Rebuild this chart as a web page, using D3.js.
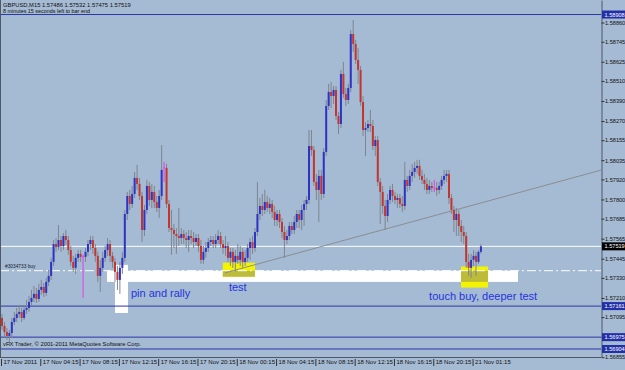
<!DOCTYPE html>
<html>
<head>
<meta charset="utf-8">
<script src="https://cdn.jsdelivr.net/npm/d3@7"></script>
<style>
  html, body { margin: 0; padding: 0; background: #a5bad3; overflow: hidden; }
  svg { display: block; font-family: "Liberation Sans", Arial, sans-serif; }
</style>
</head>
<body>
<div id="chart"></div>
<script>
// GBPUSD M15, 17 Nov 2011 00:00 .. 21 Nov 2011 (one value per bar)
const open = [
  1.57090, 1.57042, 1.57006, 1.56982, 1.57000, 1.57066, 1.57090, 1.57114, 1.57126, 1.57090,
  1.57138, 1.57150, 1.57186, 1.57210, 1.57234, 1.57204, 1.57258, 1.57276, 1.57240, 1.57306,
  1.57342, 1.57426, 1.57533, 1.57515, 1.57557, 1.57521, 1.57581, 1.57557, 1.57497, 1.57426,
  1.57390, 1.57450, 1.57474, 1.57456, 1.57456, 1.57486, 1.57533, 1.57557, 1.57509, 1.57462,
  1.57342, 1.57390, 1.57450, 1.57497, 1.57533, 1.57462, 1.57426, 1.57366, 1.57318, 1.57390,
  1.57450, 1.57713, 1.57821, 1.57773, 1.57833, 1.57929, 1.57893, 1.57821, 1.57617, 1.57737,
  1.57881, 1.57797, 1.57845, 1.57785, 1.57749, 1.57821, 1.57989, 1.57989, 1.57773, 1.57629,
  1.57617, 1.57593, 1.57581, 1.57569, 1.57593, 1.57569, 1.57557, 1.57581, 1.57569, 1.57545,
  1.57569, 1.57521, 1.57438, 1.57486, 1.57509, 1.57545, 1.57557, 1.57533, 1.57557, 1.57581,
  1.57533, 1.57509, 1.57521, 1.57450, 1.57486, 1.57426, 1.57462, 1.57438, 1.57486, 1.57426,
  1.57450, 1.57509, 1.57545, 1.57509, 1.57605, 1.57713, 1.57761, 1.57737, 1.57785, 1.57749,
  1.57773, 1.57725, 1.57677, 1.57713, 1.57665, 1.57605, 1.57557, 1.57581, 1.57641, 1.57617,
  1.57665, 1.57713, 1.57677, 1.57737, 1.57773, 1.57797, 1.58120, 1.58096, 1.57905, 1.57857,
  1.57941, 1.57833, 1.58085, 1.58360, 1.58444, 1.58420, 1.58456, 1.58300, 1.58252, 1.58552,
  1.58432, 1.58396, 1.58468, 1.58791, 1.58731, 1.58636, 1.58576, 1.58384, 1.58216, 1.58228,
  1.58252, 1.58240, 1.58120, 1.58156, 1.57905, 1.57845, 1.57761, 1.57701, 1.57797, 1.57857,
  1.57821, 1.57797, 1.57809, 1.57773, 1.57761, 1.57917, 1.57881, 1.57941, 1.57965, 1.57989,
  1.58001, 1.57941, 1.57917, 1.57893, 1.57857, 1.57881, 1.57869, 1.57869, 1.57857, 1.57881,
  1.57917, 1.57941, 1.57953, 1.57809, 1.57737, 1.57677, 1.57713, 1.57641, 1.57605, 1.57581,
  1.57426, 1.57390, 1.57438, 1.57462, 1.57426, 1.57486
];
const high = [
  1.57114, 1.57066, 1.57030, 1.57018, 1.57090, 1.57126, 1.57150, 1.57168, 1.57150, 1.57168,
  1.57198, 1.57222, 1.57258, 1.57282, 1.57270, 1.57294, 1.57318, 1.57300, 1.57330, 1.57378,
  1.57450, 1.57557, 1.57569, 1.57647, 1.57581, 1.57599, 1.57617, 1.57581, 1.57521, 1.57462,
  1.57474, 1.57497, 1.57497, 1.57468, 1.57509, 1.57557, 1.57581, 1.57581, 1.57533, 1.57486,
  1.57438, 1.57486, 1.57521, 1.57569, 1.57557, 1.57486, 1.57450, 1.57402, 1.57426, 1.57486,
  1.57737, 1.57845, 1.57857, 1.57881, 1.57965, 1.58007, 1.57929, 1.57845, 1.57767, 1.57917,
  1.57905, 1.57893, 1.57881, 1.57821, 1.57857, 1.58126, 1.58025, 1.58013, 1.57797, 1.57737,
  1.57653, 1.57629, 1.57749, 1.57629, 1.57617, 1.57605, 1.57617, 1.57617, 1.57605, 1.57593,
  1.57593, 1.57557, 1.57521, 1.57545, 1.57569, 1.57581, 1.57581, 1.57593, 1.57617, 1.57605,
  1.57557, 1.57581, 1.57545, 1.57509, 1.57509, 1.57497, 1.57533, 1.57521, 1.57509, 1.57497,
  1.57533, 1.57569, 1.57581, 1.57629, 1.57905, 1.57809, 1.57833, 1.57857, 1.57821, 1.57809,
  1.57797, 1.57761, 1.57737, 1.57737, 1.57689, 1.57641, 1.57617, 1.57665, 1.57665, 1.57701,
  1.57737, 1.57737, 1.57767, 1.57797, 1.57821, 1.58216, 1.58216, 1.58120, 1.57953, 1.57977,
  1.57977, 1.58108, 1.58396, 1.58492, 1.58504, 1.58480, 1.58480, 1.58324, 1.58576, 1.58624,
  1.58468, 1.58492, 1.58815, 1.58875, 1.58755, 1.58707, 1.58600, 1.58420, 1.58264, 1.58276,
  1.58336, 1.58276, 1.58180, 1.58180, 1.57929, 1.57881, 1.57797, 1.57833, 1.57881, 1.57893,
  1.57845, 1.57833, 1.57833, 1.57821, 1.58025, 1.57941, 1.57977, 1.58013, 1.58025, 1.58037,
  1.58037, 1.57977, 1.57953, 1.57929, 1.57917, 1.57905, 1.57917, 1.57905, 1.57905, 1.57941,
  1.57977, 1.57977, 1.57977, 1.57833, 1.57761, 1.57749, 1.57737, 1.57677, 1.57641, 1.57605,
  1.57474, 1.57474, 1.57497, 1.57486, 1.57497, 1.57532
];
const low = [
  1.57018, 1.56982, 1.56958, 1.56922, 1.56970, 1.57048, 1.57066, 1.57090, 1.57066, 1.57078,
  1.57114, 1.57126, 1.57162, 1.57186, 1.57180, 1.57186, 1.57228, 1.57216, 1.57222, 1.57282,
  1.57318, 1.57402, 1.57486, 1.57497, 1.57486, 1.57497, 1.57527, 1.57468, 1.57402, 1.57366,
  1.57354, 1.57426, 1.57426, 1.57210, 1.57426, 1.57462, 1.57497, 1.57474, 1.57426, 1.57306,
  1.57246, 1.57366, 1.57426, 1.57462, 1.57426, 1.57390, 1.57306, 1.57258, 1.57234, 1.57354,
  1.57426, 1.57677, 1.57737, 1.57749, 1.57809, 1.57857, 1.57797, 1.57545, 1.57581, 1.57713,
  1.57761, 1.57749, 1.57749, 1.57725, 1.57689, 1.57797, 1.57905, 1.57749, 1.57605, 1.57468,
  1.57509, 1.57474, 1.57521, 1.57533, 1.57533, 1.57509, 1.57486, 1.57533, 1.57509, 1.57521,
  1.57486, 1.57414, 1.57414, 1.57450, 1.57486, 1.57521, 1.57509, 1.57509, 1.57533, 1.57509,
  1.57474, 1.57462, 1.57426, 1.57402, 1.57390, 1.57366, 1.57414, 1.57402, 1.57390, 1.57402,
  1.57426, 1.57438, 1.57474, 1.57486, 1.57581, 1.57677, 1.57701, 1.57713, 1.57725, 1.57713,
  1.57689, 1.57641, 1.57641, 1.57629, 1.57569, 1.57450, 1.57533, 1.57557, 1.57593, 1.57593,
  1.57629, 1.57629, 1.57617, 1.57641, 1.57737, 1.57773, 1.58061, 1.57881, 1.57797, 1.57665,
  1.57797, 1.57809, 1.58061, 1.58336, 1.58348, 1.58372, 1.58276, 1.58192, 1.58228, 1.58408,
  1.58360, 1.58372, 1.58444, 1.58684, 1.58612, 1.58492, 1.58360, 1.58180, 1.58061, 1.58204,
  1.58204, 1.58096, 1.58061, 1.57881, 1.57653, 1.57713, 1.57617, 1.57665, 1.57773, 1.57785,
  1.57773, 1.57749, 1.57749, 1.57725, 1.57737, 1.57845, 1.57857, 1.57905, 1.57929, 1.57953,
  1.57917, 1.57893, 1.57857, 1.57833, 1.57833, 1.57845, 1.57845, 1.57821, 1.57833, 1.57857,
  1.57893, 1.57905, 1.57773, 1.57713, 1.57605, 1.57581, 1.57581, 1.57545, 1.57533, 1.57390,
  1.57342, 1.57330, 1.57402, 1.57342, 1.57414, 1.57475
];
const close = [
  1.57042, 1.57006, 1.56982, 1.57000, 1.57066, 1.57090, 1.57114, 1.57126, 1.57090, 1.57138,
  1.57150, 1.57186, 1.57210, 1.57234, 1.57204, 1.57258, 1.57276, 1.57240, 1.57306, 1.57342,
  1.57426, 1.57533, 1.57515, 1.57557, 1.57521, 1.57581, 1.57557, 1.57497, 1.57426, 1.57390,
  1.57450, 1.57474, 1.57456, 1.57456, 1.57486, 1.57533, 1.57557, 1.57509, 1.57462, 1.57342,
  1.57390, 1.57450, 1.57497, 1.57533, 1.57462, 1.57426, 1.57366, 1.57318, 1.57390, 1.57450,
  1.57713, 1.57821, 1.57773, 1.57833, 1.57929, 1.57893, 1.57821, 1.57617, 1.57737, 1.57881,
  1.57797, 1.57845, 1.57785, 1.57749, 1.57821, 1.57977, 1.57989, 1.57773, 1.57629, 1.57617,
  1.57593, 1.57581, 1.57569, 1.57593, 1.57569, 1.57557, 1.57581, 1.57569, 1.57545, 1.57569,
  1.57521, 1.57438, 1.57486, 1.57509, 1.57545, 1.57557, 1.57533, 1.57557, 1.57581, 1.57533,
  1.57509, 1.57521, 1.57450, 1.57486, 1.57426, 1.57462, 1.57438, 1.57486, 1.57426, 1.57450,
  1.57509, 1.57545, 1.57509, 1.57605, 1.57713, 1.57761, 1.57737, 1.57785, 1.57749, 1.57773,
  1.57725, 1.57677, 1.57713, 1.57665, 1.57605, 1.57557, 1.57581, 1.57641, 1.57617, 1.57665,
  1.57713, 1.57677, 1.57737, 1.57773, 1.57797, 1.58120, 1.58096, 1.57905, 1.57857, 1.57941,
  1.57833, 1.58085, 1.58360, 1.58444, 1.58420, 1.58456, 1.58300, 1.58252, 1.58552, 1.58432,
  1.58396, 1.58468, 1.58791, 1.58731, 1.58636, 1.58576, 1.58384, 1.58216, 1.58228, 1.58252,
  1.58240, 1.58120, 1.58156, 1.57905, 1.57845, 1.57761, 1.57701, 1.57797, 1.57857, 1.57821,
  1.57797, 1.57809, 1.57773, 1.57761, 1.57917, 1.57881, 1.57941, 1.57965, 1.57989, 1.58001,
  1.57941, 1.57917, 1.57893, 1.57857, 1.57881, 1.57869, 1.57869, 1.57857, 1.57881, 1.57917,
  1.57941, 1.57953, 1.57809, 1.57737, 1.57677, 1.57713, 1.57641, 1.57605, 1.57581, 1.57426,
  1.57390, 1.57438, 1.57462, 1.57426, 1.57486, 1.57519
];

// time axis: bar index of each label and its text
const timeBars = [0, 16, 32, 48, 64, 80, 96, 112, 128, 144, 160, 176, 192];
const timeLabels = ['17 Nov 2011', '17 Nov 04:15', '17 Nov 08:15', '17 Nov 12:15', '17 Nov 16:15',
  '17 Nov 20:15', '18 Nov 00:15', '18 Nov 04:15', '18 Nov 08:15', '18 Nov 12:15',
  '18 Nov 16:15', '18 Nov 20:15', '21 Nov 01:15'];

const priceTicks = [1.58860, 1.58745, 1.58625, 1.58510, 1.58390, 1.58270, 1.58155, 1.58035,
  1.57920, 1.57800, 1.57685, 1.57565, 1.57445, 1.57330, 1.57210, 1.57095, 1.56975, 1.56855];

// chart objects
const blueLevels = [1.58908, 1.57161, 1.56975, 1.56904];
const bidPrice = 1.57519;
const orderPrice = 1.57373;
const orderLabel = '#3034733 buy';
const trendFrom = [90.8, 1.57360];
const trendTo = [195, 1.57779];
const whiteBoxes = [[42.75, 210.1, 1.57373, 1.57306], [46, 51.3, 1.57408, 1.57120]];
const yellowBoxes = [[89.9, 103, 1.57421, 1.57337], [186.9, 197.9, 1.57398, 1.57272]];
const notes = [['pin and rally', 52.5, 1.57216], ['test', 92.4, 1.57252], ['touch buy, deeper test', 173.9, 1.57198]];

const W = 625, H = 370;
const plotRight = 601, plotBottom = 357;

const svg = d3.select('#chart').append('svg')
  .attr('width', W)
  .attr('height', H);

svg.append('rect').attr('width', W).attr('height', H).attr('fill', '#a5bad3');

const x = d3.scaleLinear().domain([0, close.length - 1]).range([2, 2 + (close.length - 1) * 2.456]);
const y = d3.scaleLinear().domain([1.56856, 1.58995]).range([plotBottom, 0]);

const plot = svg.append('g');
plot.append('clipPath').attr('id', 'clip')
  .append('rect').attr('width', plotRight).attr('height', plotBottom);
const g = plot.append('g').attr('clip-path', 'url(#clip)');

// rectangles
const boxRect = (sel, b) => sel
  .attr('x', x(b[0])).attr('width', x(b[1]) - x(b[0]))
  .attr('y', y(b[2])).attr('height', y(b[3]) - y(b[2]));
whiteBoxes.forEach(b => g.append('rect').call(boxRect, b).attr('fill', '#ffffff'));
yellowBoxes.forEach(b => g.append('rect').call(boxRect, b).attr('fill', '#f4f400'));
// where yellow sits on white the colours mix to olive
yellowBoxes.forEach(b => {
  const w = whiteBoxes[0];
  const o = [Math.max(b[0], w[0]), Math.min(b[1], w[1]), Math.min(b[2], w[2]), Math.max(b[3], w[3])];
  if (o[1] > o[0] && o[2] > o[3]) g.append('rect').call(boxRect, o).attr('fill', '#bcbc3a');
});

// horizontal lines
blueLevels.forEach(p => g.append('line')
  .attr('x1', 0).attr('x2', plotRight).attr('y1', y(p)).attr('y2', y(p))
  .attr('stroke', '#2c36a6').attr('stroke-width', 1));
g.append('line')
  .attr('x1', 0).attr('x2', plotRight).attr('y1', y(bidPrice)).attr('y2', y(bidPrice))
  .attr('stroke', '#ffffff').attr('stroke-width', 1);
g.append('line')
  .attr('x1', 0).attr('x2', plotRight).attr('y1', y(orderPrice)).attr('y2', y(orderPrice))
  .attr('stroke', '#ffffff').attr('stroke-width', 1).attr('stroke-dasharray', '9,3,2,3');
g.append('text')
  .attr('x', 5).attr('y', y(orderPrice) - 2.5)
  .attr('font-size', 4.8).attr('fill', '#141a2c')
  .text(orderLabel);

// trend line, extended to the right edge
const slope = (y(trendTo[1]) - y(trendFrom[1])) / (x(trendTo[0]) - x(trendFrom[0]));
g.append('line')
  .attr('x1', x(trendFrom[0])).attr('y1', y(trendFrom[1]))
  .attr('x2', plotRight).attr('y2', y(trendFrom[1]) + slope * (plotRight - x(trendFrom[0])))
  .attr('stroke', '#8a8e94').attr('stroke-width', 1);

// candles
const idx = d3.range(close.length);
g.append('g').selectAll('line')
  .data(idx).enter().append('line')
  .attr('x1', i => x(i)).attr('x2', i => x(i))
  .attr('y1', i => y(high[i])).attr('y2', i => y(low[i]))
  .attr('stroke', i => open[i] === close[i] ? '#e040e8' : '#7f858e')
  .attr('stroke-width', 1);
g.append('g').selectAll('rect')
  .data(idx.filter(i => open[i] !== close[i])).enter().append('rect')
  .attr('x', i => x(i) - 1)
  .attr('width', 2)
  .attr('y', i => y(Math.max(open[i], close[i])))
  .attr('height', i => Math.max(1, Math.abs(y(open[i]) - y(close[i]))))
  .attr('fill', i => close[i] > open[i] ? '#2d33c4' : '#c4352e');
g.append('g').selectAll('line')
  .data(idx.filter(i => open[i] === close[i])).enter().append('line')
  .attr('x1', i => x(i) - 1).attr('x2', i => x(i) + 1)
  .attr('y1', i => y(close[i])).attr('y2', i => y(close[i]))
  .attr('stroke', '#e040e8').attr('stroke-width', 1);

// notes
notes.forEach(n => g.append('text')
  .attr('x', x(n[1])).attr('y', y(n[2]))
  .attr('font-size', 11).attr('fill', '#2434e0')
  .text(n[0]));

// frame
svg.append('line').attr('x1', 0.5).attr('x2', 0.5).attr('y1', 0).attr('y2', plotBottom)
  .attr('stroke', '#4e5868');
svg.append('line').attr('x1', 0).attr('x2', plotRight).attr('y1', plotBottom + 0.5).attr('y2', plotBottom + 0.5)
  .attr('stroke', '#4e5868');

// price axis
const yAxis = svg.append('g')
  .attr('transform', `translate(${plotRight + 0.5},0)`)
  .call(d3.axisRight(y).tickValues(priceTicks).tickSize(3).tickSizeOuter(0).tickFormat(d3.format('.5f')));
yAxis.select('.domain').attr('stroke', '#4e5868');
yAxis.selectAll('.tick line').attr('stroke', '#333');
yAxis.selectAll('.tick text').attr('x', 3.5).attr('font-size', 5.6).attr('fill', '#111')
  .attr('font-family', '"Liberation Sans", Arial, sans-serif');

// highlighted price labels
const tag = (p, fill) => {
  const t = svg.append('g').attr('transform', `translate(${plotRight + 1},${y(p)})`);
  t.append('rect').attr('x', 0).attr('y', -4).attr('width', 23).attr('height', 8).attr('fill', fill);
  t.append('text').attr('x', 2.5).attr('y', 2).attr('font-size', 5.6).attr('fill', '#fff')
    .text(d3.format('.5f')(p));
};
blueLevels.forEach(p => tag(p, '#2230a8'));
tag(bidPrice, '#000000');

// time axis
const xAxis = svg.append('g')
  .attr('transform', `translate(0,${plotBottom})`)
  .call(d3.axisBottom(x).tickValues(timeBars).tickSize(0).tickFormat((d, i) => timeLabels[i]));
xAxis.select('.domain').remove();
xAxis.selectAll('.tick text')
  .attr('text-anchor', 'start').attr('x', 1).attr('y', 3).attr('dy', '0.71em')
  .attr('font-size', 6).attr('fill', '#111')
  .attr('font-family', '"Liberation Sans", Arial, sans-serif');
xAxis.selectAll('.tick').append('line')
  .attr('x1', -1).attr('x2', -1).attr('y1', 2).attr('y2', 9)
  .attr('stroke', '#333');

// header and footer text
svg.append('text').attr('x', 3).attr('y', 7).attr('font-size', 5.8).attr('fill', '#111')
  .text('GBPUSD,M15  1.57486 1.57532 1.57475 1.57519');
svg.append('text').attr('x', 3).attr('y', 13).attr('font-size', 5.4).attr('fill', '#111')
  .text('8 minutes 15 seconds left to bar end');
svg.append('text').attr('x', 3).attr('y', 346).attr('font-size', 5.8).attr('fill', '#111')
  .text('vFX Trader, © 2001-2011 MetaQuotes Software Corp.');
</script>
</body>
</html>
